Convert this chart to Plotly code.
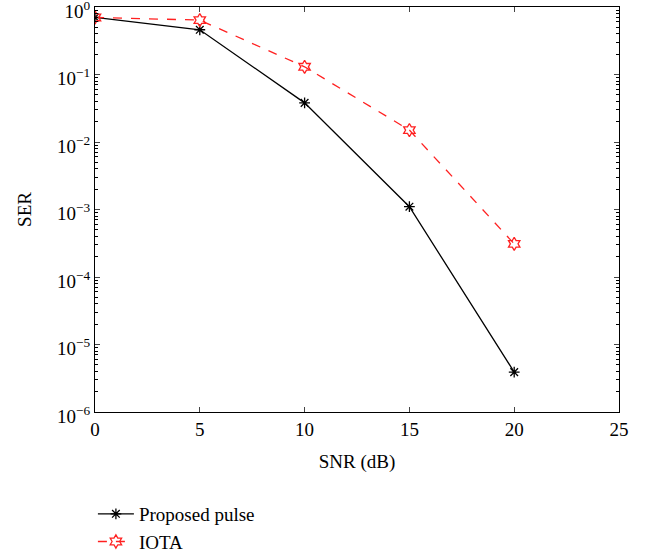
import plotly.graph_objects as go

snr = [0, 5, 10, 15, 20]
ser_proposed = [0.70, 0.46, 0.038, 0.0011, 3.9e-6]
ser_iota = [0.70, 0.64, 0.13, 0.015, 3.1e-4]

x_ticks = [0, 5, 10, 15, 20, 25]
y_tickvals = [1, 1e-1, 1e-2, 1e-3, 1e-4, 1e-5, 1e-6]
y_ticktext = ["10<sup>0</sup>", "10<sup>−1</sup>", "10<sup>−2</sup>", "10<sup>−3</sup>",
              "10<sup>−4</sup>", "10<sup>−5</sup>", "10<sup>−6</sup>"]
y_minor = [m * 10.0 ** e for e in range(-6, 0) for m in range(2, 10)]

font = "Liberation Serif"

fig = go.Figure()
fig.add_trace(go.Scatter(
    x=snr, y=ser_proposed, mode="lines+markers", name="Proposed pulse",
    line=dict(color="black", width=1.3),
    marker=dict(symbol="asterisk-open", size=9, color="black", line=dict(color="black", width=1.3)),
))
fig.add_trace(go.Scatter(
    x=snr, y=ser_iota, mode="lines+markers", name="IOTA",
    line=dict(color="#ff2020", width=1.3, dash="dash"),
    marker=dict(symbol="hexagram-open", size=10, color="#ff2020", line=dict(color="#ff2020", width=1.3)),
))

fig.update_layout(
    width=654, height=558,
    margin=dict(l=95, r=35, t=7, b=146),
    paper_bgcolor="white", plot_bgcolor="white",
    font=dict(family=font, size=19, color="black"),
    showlegend=True,
    legend=dict(x=-0.004, xanchor="left", yref="container", y=0.113, yanchor="top",
                font=dict(family=font, size=19), bgcolor="rgba(0,0,0,0)",
                tracegroupgap=0, itemwidth=36),
)
fig.update_xaxes(
    range=[0, 25], tickvals=x_ticks, ticks="inside", ticklen=5,
    showline=True, linecolor="black", linewidth=1.2, mirror="ticks",
    showgrid=False, zeroline=False, automargin=False,
    title=dict(text="SNR (dB)", font=dict(family=font, size=19), standoff=15),
    tickfont=dict(family=font, size=19),
)
fig.update_yaxes(
    type="log", range=[-6, 0], tickmode="array", tickvals=y_tickvals, ticktext=y_ticktext,
    ticks="inside", ticklen=5, ticklabeloverflow="allow", ticklabelshift=4,
    minor=dict(tickmode="array", tickvals=y_minor, ticks="inside", ticklen=3,
               tickcolor="black", showgrid=False),
    showline=True, linecolor="black", linewidth=1.2, mirror="ticks",
    showgrid=False, zeroline=False, automargin=False,
    title=dict(text="SER", font=dict(family=font, size=19), standoff=20),
    tickfont=dict(family=font, size=19),
)

fig.write_html("out.html", config={"displayModeBar": False},
               post_script="document.body.style.margin='0px';")
